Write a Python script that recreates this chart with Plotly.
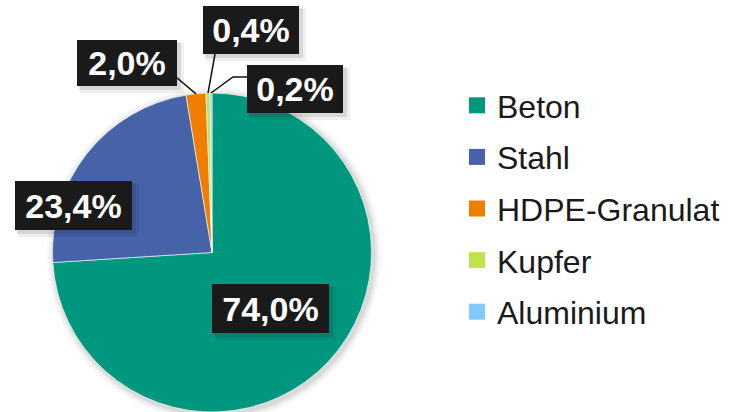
import math
import plotly.graph_objects as go

# ---- data ----
categories = ["Beton", "Stahl", "HDPE-Granulat", "Kupfer", "Aluminium"]
values = [74.0, 23.4, 2.0, 0.4, 0.2]
colors = ["#00977f", "#4662a8", "#f07d00", "#bfe34b", "#80caff"]
value_labels = [f"{v:.1f}".replace(".", ",") + "%" for v in values]

# ---- layout geometry (pixels) ----
W, H = 736, 412
CX, CY, R = 212.0, 252.5, 159.5

def px(x):
    return x / W

def py(y):
    return 1 - y / H

# label box centres (pixels) and sizes
box_pos = [(270.5, 308.5), (73.5, 205.5), (126.5, 63.0), (251.0, 30.0), (295.0, 89.0)]
box_size = [(117, 49), (117, 49), (100, 46), (96, 48), (96, 48)]
# leader line start points (pixels), None = no leader
leader_start = [None, None, [(176, 77)], [(215, 54)], [(247, 77), (233, 77)]]

fig = go.Figure()

fig.add_trace(go.Pie(
    labels=categories,
    values=values,
    sort=False,
    direction="clockwise",
    rotation=0,
    marker=dict(colors=colors, line=dict(color="rgba(255,255,255,0.6)", width=1)),
    textinfo="none",
    hoverinfo="label+percent",
    showlegend=False,
    domain=dict(x=[px(CX - R), px(CX + R)], y=[py(CY + R), py(CY - R)]),
))

# legend entries
for name, col in zip(categories, colors):
    fig.add_trace(go.Scatter(
        x=[None], y=[None], mode="markers", name=name, legendgroup=name,
        marker=dict(symbol="square", size=16, color=col),
    ))

# slice mid-angles -> edge points
total = sum(values)
cum = 0.0
edge_pts = []
for v in values:
    mid = (cum + v / 2) / total * 2 * math.pi
    cum += v
    edge_pts.append((CX + R * math.sin(mid), CY - R * math.cos(mid)))

shapes = []
# soft shadow around pie
for d, a in [(8, 0.02), (6, 0.03), (4, 0.045), (2, 0.06)]:
    shapes.append(dict(type="circle", xref="paper", yref="paper", layer="below",
                       x0=px(CX - R - d + 2), x1=px(CX + R + d + 2),
                       y0=py(CY + R + d + 2), y1=py(CY - R - d + 2),
                       fillcolor=f"rgba(0,0,0,{a})", line=dict(width=0)))

for i, starts in enumerate(leader_start):
    if not starts:
        continue
    pts = starts + [edge_pts[i]]
    path = "M " + " L ".join(f"{px(x)},{py(y)}" for x, y in pts)
    shapes.append(dict(type="path", xref="paper", yref="paper", path=path,
                       line=dict(color="#111111", width=1.5)))

annotations = []
for (bx, by), (bw, bh), txt in zip(box_pos, box_size, value_labels):
    for off, grow, a in [(5, 4, 0.06), (3, 2, 0.10)]:
        annotations.append(dict(
            x=px(bx + off), y=py(by + off), xref="paper", yref="paper",
            text=" ", showarrow=False, width=bw + grow, height=bh + grow,
            bgcolor=f"rgba(0,0,0,{a})", borderpad=0, borderwidth=0,
            xanchor="center", yanchor="middle",
            font=dict(size=10),
        ))
    annotations.append(dict(
        x=px(bx), y=py(by), xref="paper", yref="paper",
        text=f"<b>{txt}</b>", showarrow=False, width=bw, height=bh,
        bgcolor="#1a1a1a", borderpad=0, borderwidth=0,
        xanchor="center", yanchor="middle", align="center", valign="middle",
        font=dict(family="Liberation Sans, Arial, sans-serif", size=34, color="white"),
    ))

fig.update_layout(
    width=W, height=H,
    margin=dict(l=0, r=0, t=0, b=0),
    paper_bgcolor="white", plot_bgcolor="white",
    xaxis=dict(visible=False), yaxis=dict(visible=False),
    shapes=shapes, annotations=annotations,
    showlegend=True,
    legend=dict(
        x=px(457), y=py(78), xanchor="left", yanchor="top",
        font=dict(family="Liberation Sans, Arial, sans-serif", size=32, color="#1a1a1a"),
        tracegroupgap=7, bgcolor="rgba(0,0,0,0)",
    ),
)

fig.write_html("out.html", config={"displayModeBar": False},
               post_script="document.body.style.margin='0';document.body.style.overflow='hidden';")
